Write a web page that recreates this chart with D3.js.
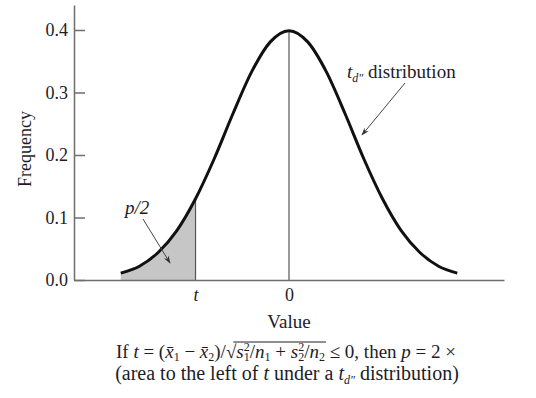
<!DOCTYPE html>
<html>
<head>
<meta charset="utf-8">
<script src="https://cdn.jsdelivr.net/npm/d3@7"></script>
<style>
  body { margin: 0; background: #fff; }
  svg text { font-family: "Liberation Serif", "DejaVu Serif", serif; fill: #1c1c28; }
  .axis path, .axis line { stroke: #6e6e6e; stroke-width: 1.5; }
  .axis text { font-size: 18px; }
</style>
</head>
<body>
<div id="chart"></div>
<script>
const values = [-2.7, -2.4, -2.1, -1.8, -1.5, -1.2, -0.9, -0.6, -0.3, 0, 0.3, 0.6, 0.9, 1.2, 1.5, 1.8, 2.1, 2.4, 2.7];
const density = [0.011, 0.022, 0.044, 0.079, 0.13, 0.194, 0.266, 0.333, 0.381, 0.399, 0.381, 0.333, 0.266, 0.194, 0.13, 0.079, 0.044, 0.022, 0.011];
const tValue = -1.5;
const xTicks = [tValue, 0];
const xTickLabels = ['t', '0'];
const yTicks = [0, 0.1, 0.2, 0.3, 0.4];

const width = 536, height = 398;
const fs = 19;
const sub = 12;

const svg = d3.select('#chart').append('svg')
  .attr('width', width)
  .attr('height', height);

const x = d3.scaleLinear().domain([-3.45, 3.45]).range([74, 504]);
const y = d3.scaleLinear().domain([0, 0.44]).range([280, 5]);

const pts = values.map((v, i) => ({v: v, d: density[i]}));

// shaded tail left of t
const tail = pts.filter(p => p.v <= tValue);
svg.append('path')
  .datum(tail)
  .attr('fill', '#c6c6c6')
  .attr('d', d3.area().curve(d3.curveMonotoneX)
    .x(p => x(p.v)).y0(y(0)).y1(p => y(p.d)));

svg.append('line')
  .attr('x1', x(tValue)).attr('x2', x(tValue))
  .attr('y1', y(0)).attr('y2', y(density[values.indexOf(tValue)]))
  .attr('stroke', '#555').attr('stroke-width', 1.2);

// vertical line at 0 up to the peak
svg.append('line')
  .attr('x1', x(0)).attr('x2', x(0))
  .attr('y1', y(0)).attr('y2', y(density[values.indexOf(0)]))
  .attr('stroke', '#555').attr('stroke-width', 1.2);

// axes
svg.append('g')
  .attr('class', 'axis')
  .attr('transform', `translate(${x.range()[0]},0)`)
  .call(d3.axisLeft(y).tickValues(yTicks).tickFormat(d3.format('.1f'))
    .tickSizeInner(-11).tickSizeOuter(0).tickPadding(6));

const xAxis = svg.append('g')
  .attr('class', 'axis')
  .attr('transform', `translate(0,${y(0)})`)
  .call(d3.axisBottom(x).tickValues(xTicks)
    .tickFormat((d, i) => xTickLabels[i]).tickSize(0).tickPadding(8));
xAxis.selectAll('.tick text').style('font-style', (d, i) => i === 0 ? 'italic' : 'normal');

// the curve
svg.append('path')
  .datum(pts)
  .attr('fill', 'none')
  .attr('stroke', '#111')
  .attr('stroke-width', 3)
  .attr('d', d3.line().curve(d3.curveMonotoneX).x(p => x(p.v)).y(p => y(p.d)));

// arrows
const defs = svg.append('defs');
defs.append('marker')
  .attr('id', 'arr')
  .attr('viewBox', '0 0 10 10')
  .attr('refX', 9).attr('refY', 5)
  .attr('markerWidth', 8).attr('markerHeight', 8)
  .attr('orient', 'auto')
  .append('path')
  .attr('d', 'M0,1.5 L10,5 L0,8.5 L3,5 Z')
  .attr('fill', '#333');

svg.append('line')
  .attr('x1', 405).attr('y1', 83).attr('x2', 362).attr('y2', 135)
  .attr('stroke', '#444').attr('stroke-width', 1)
  .attr('marker-end', 'url(#arr)');

svg.append('line')
  .attr('x1', 143).attr('y1', 219).attr('x2', 170).attr('y2', 263)
  .attr('stroke', '#444').attr('stroke-width', 1)
  .attr('marker-end', 'url(#arr)');

// labels
const dist = svg.append('text')
  .attr('x', 347).attr('y', 78)
  .style('font-size', fs + 'px');
dist.append('tspan').style('font-style', 'italic').text('t');
dist.append('tspan').style('font-style', 'italic').style('font-size', sub + 'px').attr('dy', 4).text('d\u2033');
dist.append('tspan').attr('dy', -4).text(' distribution');

svg.append('text')
  .attr('x', 125).attr('y', 214)
  .style('font-size', fs + 'px').style('font-style', 'italic')
  .text('p/2');

svg.append('text')
  .attr('transform', 'translate(31,149) rotate(-90)')
  .attr('text-anchor', 'middle')
  .style('font-size', '18px')
  .text('Frequency');

svg.append('text')
  .attr('x', x(0)).attr('y', 328)
  .attr('text-anchor', 'middle')
  .style('font-size', fs + 'px')
  .text('Value');

// caption line 1
const cap1 = svg.append('text')
  .attr('x', 286).attr('y', 358)
  .attr('text-anchor', 'middle')
  .style('font-size', fs + 'px');
cap1.append('tspan').text('If ');
cap1.append('tspan').style('font-style', 'italic').text('t');
cap1.append('tspan').text(' = (');
cap1.append('tspan').style('font-style', 'italic').text('x\u0304');
cap1.append('tspan').style('font-size', sub + 'px').attr('dy', 3).text('1');
cap1.append('tspan').attr('dy', -3).text(' \u2212 ');
cap1.append('tspan').style('font-style', 'italic').text('x\u0304');
cap1.append('tspan').style('font-size', sub + 'px').attr('dy', 3).text('2');
cap1.append('tspan').attr('dy', -3).text(')/\u221A');
const radStart = cap1.append('tspan').style('font-style', 'italic').text('s');
cap1.append('tspan').style('font-size', sub + 'px').attr('dy', -7).text('2');
cap1.append('tspan').style('font-size', sub + 'px').attr('dx', -6).attr('dy', 10).text('1');
cap1.append('tspan').attr('dy', -3).text('/');
cap1.append('tspan').style('font-style', 'italic').text('n');
cap1.append('tspan').style('font-size', sub + 'px').attr('dy', 3).text('1');
cap1.append('tspan').attr('dy', -3).text(' + ');
cap1.append('tspan').style('font-style', 'italic').text('s');
cap1.append('tspan').style('font-size', sub + 'px').attr('dy', -7).text('2');
cap1.append('tspan').style('font-size', sub + 'px').attr('dx', -6).attr('dy', 10).text('2');
cap1.append('tspan').attr('dy', -3).text('/');
cap1.append('tspan').style('font-style', 'italic').text('n');
const radEnd = cap1.append('tspan').style('font-size', sub + 'px').attr('dy', 3).text('2');
cap1.append('tspan').attr('dy', -3).text(' \u2264 0, then ');
cap1.append('tspan').style('font-style', 'italic').text('p');
cap1.append('tspan').text(' = 2 \u00D7');

// overline of the square root, measured from the rendered glyphs
const rs = radStart.node().getStartPositionOfChar(0).x - 3;
const re = radEnd.node().getEndPositionOfChar(0).x + 1;
svg.append('line')
  .attr('x1', rs).attr('x2', re)
  .attr('y1', 358 - 16).attr('y2', 358 - 16)
  .attr('stroke', '#1c1c28').attr('stroke-width', 1);

// caption line 2
const cap2 = svg.append('text')
  .attr('x', 287).attr('y', 380)
  .attr('text-anchor', 'middle')
  .style('font-size', '20px');
cap2.append('tspan').text('(area to the left of ');
cap2.append('tspan').style('font-style', 'italic').text('t');
cap2.append('tspan').text(' under a ');
cap2.append('tspan').style('font-style', 'italic').text('t');
cap2.append('tspan').style('font-style', 'italic').style('font-size', sub + 'px').attr('dy', 4).text('d\u2033');
cap2.append('tspan').attr('dy', -4).text(' distribution)');
</script>
</body>
</html>
